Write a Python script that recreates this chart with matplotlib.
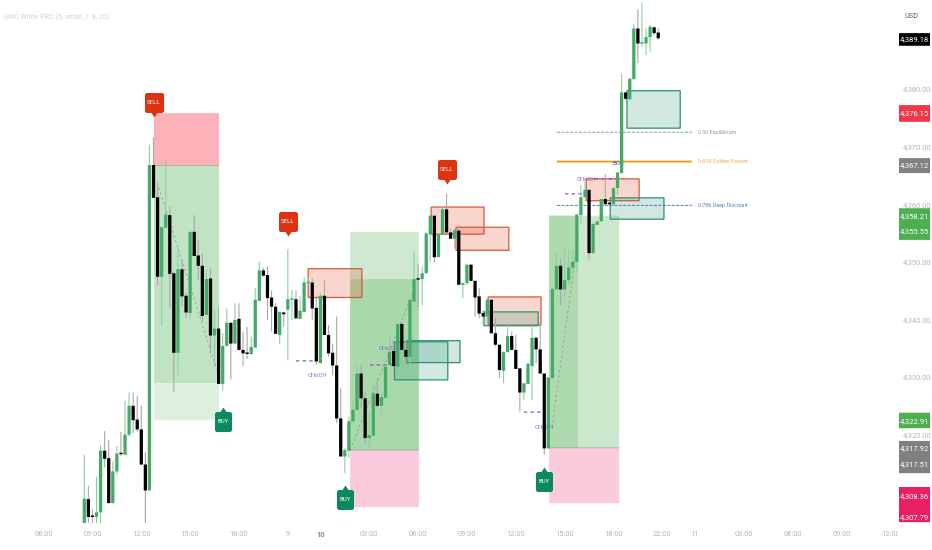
import matplotlib
matplotlib.use("Agg")
import matplotlib.pyplot as plt
from matplotlib.patches import Rectangle
from matplotlib.path import Path
from matplotlib.colors import to_rgba
from matplotlib.transforms import Bbox

plt.rcParams['font.family'] = ['Roboto', 'DejaVu Sans']
plt.rcParams['path.snap'] = False

# 15 min candles
opens = [4304.6,4308.8,4305.9,4305.7,4306.5,4317.2,4315.9,4308.1,4313.6,4316.7,
         4316.5,4320.0,4325.0,4322.6,4320.9,4314.8,4310.3,4366.8,4361.2,4347.4,
         4355.9,4358.1,4348.0,4334.2,4348.7,4344.1,4341.1,4355.2,4351.1,4349.3,
         4340.8,4347.1,4337.2,4338.4,4328.8,4335.4,4339.4,4335.8,4340.1,4334.7,
         4334.2,4334.0,4335.1,4343.2,4348.5,4347.7,4343.8,4342.2,4337.3,4341.2,
         4341.7,4343.4,4343.5,4340.1,4341.3,4346.3,4346.4,4342.0,4332.4,4344.1,
         4337.3,4334.2,4332.0,4322.8,4316.2,4317.2,4322.3,4324.3,4330.6,4326.3,
         4319.4,4319.8,4327.1,4325.0,4326.4,4332.1,4334.5,4331.8,4339.2,4334.7,
         4333.5,4343.1,4347.0,4347.0,4348.0,4354.8,4358.0,4350.8,4354.8,4359.1,
         4355.1,4354.0,4355.4,4346.0,4346.3,4349.5,4346.7,4344.0,4341.1,4340.5,
         4343.4,4337.6,4335.6,4331.1,4334.3,4337.1,4334.7,4331.5,4327.3,4328.8,
         4331.9,4336.8,4334.8,4330.6,4317.6,4329.8,4345.2,4349.3,4345.2,4346.8,
         4349.0,4350.0,4358.1,4361.2,4362.5,4351.5,4356.4,4357.0,4360.9,4360.1,
         4360.0,4362.8,4365.4,4379.4,4378.2,4381.7,4390.5,4387.9,4387.9,4389.0,
         4390.7,4389.8]
highs = [4316.5,4311.1,4307.0,4312.7,4318.2,4320.6,4319.1,4315.3,4318.0,4320.5,
         4325.9,4327.3,4327.3,4326.7,4325.1,4316.9,4370.3,4371.6,4363.3,4356.1,
         4367.7,4359.6,4348.3,4352.5,4350.4,4344.6,4355.2,4358.1,4353.8,4351.5,
         4348.6,4348.9,4341.7,4341.9,4337.6,4341.9,4339.6,4342.8,4342.8,4337.9,
         4338.7,4337.0,4345.4,4350.0,4349.0,4349.2,4345.0,4342.8,4341.3,4341.3,
         4352.2,4345.1,4345.0,4344.0,4347.4,4347.4,4347.1,4343.7,4344.5,4346.8,
         4339.0,4335.8,4340.5,4328.0,4317.6,4323.1,4325.7,4332.1,4332.1,4327.5,
         4323.7,4328.9,4329.8,4327.2,4332.1,4337.0,4335.8,4339.3,4339.3,4336.2,
         4343.7,4351.8,4349.7,4349.2,4355.2,4358.1,4358.1,4354.9,4359.6,4361.8,
         4355.8,4355.7,4356.4,4346.3,4349.5,4349.5,4346.7,4345.4,4341.6,4343.7,
         4343.5,4340.2,4335.6,4334.4,4339.0,4337.9,4337.3,4331.5,4328.9,4332.4,
         4338.7,4337.0,4339.6,4330.6,4329.9,4345.4,4351.5,4350.6,4352.1,4352.1,
         4352.1,4358.2,4363.3,4363.9,4362.5,4356.6,4357.0,4360.9,4365.2,4360.4,
         4362.9,4365.6,4382.7,4379.4,4381.8,4391.3,4393.8,4394.9,4390.5,4391.1,
         4390.9,4390.5]
lows = [4304.6,4304.6,4304.6,4304.6,4304.6,4314.3,4308.1,4308.1,4313.0,4316.3,
        4316.4,4319.6,4320.2,4320.5,4314.7,4304.6,4310.3,4361.1,4345.9,4338.9,
        4355.8,4342.1,4327.3,4330.3,4342.2,4340.2,4340.2,4351.0,4346.8,4339.6,
        4340.8,4334.1,4331.8,4328.8,4327.7,4335.3,4329.6,4335.8,4334.6,4331.9,
        4333.1,4333.8,4335.1,4343.2,4347.4,4339.9,4337.9,4337.5,4335.8,4338.8,
        4332.9,4339.9,4340.0,4340.1,4341.3,4346.2,4339.9,4332.1,4332.4,4337.3,
        4333.5,4330.3,4322.0,4316.2,4313.3,4315.9,4322.3,4324.3,4324.6,4318.5,
        4317.5,4319.8,4324.7,4322.8,4326.4,4332.1,4331.2,4331.8,4334.7,4332.1,
        4331.5,4341.6,4342.2,4342.5,4348.0,4350.0,4349.9,4350.8,4354.8,4355.1,
        4354.0,4352.4,4346.0,4343.7,4346.0,4346.7,4340.5,4340.2,4339.0,4339.0,
        4337.6,4335.3,4329.8,4328.9,4334.3,4334.7,4331.4,4324.0,4326.0,4328.8,
        4326.0,4332.4,4330.6,4316.5,4317.6,4329.8,4345.2,4342.5,4343.9,4346.0,
        4347.7,4348.4,4356.7,4361.2,4350.4,4351.5,4356.4,4357.0,4359.6,4359.8,
        4359.8,4361.6,4365.4,4378.1,4378.2,4381.7,4384.5,4387.4,4385.9,4386.5,
        4389.4,4388.5]
closes = [4308.9,4305.7,4305.7,4306.5,4317.2,4315.8,4308.1,4313.6,4316.7,4316.6,
          4320.0,4325.0,4322.5,4320.9,4314.8,4310.3,4366.8,4361.1,4347.4,4356.0,
          4358.2,4347.9,4334.2,4348.7,4344.0,4341.2,4355.2,4351.0,4349.3,4340.6,
          4347.0,4337.2,4338.4,4328.8,4335.4,4339.4,4335.8,4339.9,4334.7,4334.1,
          4334.0,4335.2,4343.4,4348.5,4347.6,4343.7,4342.2,4337.5,4341.3,4340.9,
          4343.5,4343.5,4340.2,4341.5,4346.4,4346.4,4341.9,4332.7,4344.1,4337.3,
          4334.1,4332.0,4322.8,4316.2,4317.3,4322.3,4324.3,4330.6,4326.3,4319.4,
          4319.9,4327.2,4325.0,4326.5,4331.8,4334.4,4331.9,4339.2,4334.7,4333.5,
          4343.4,4347.0,4346.9,4348.0,4354.9,4358.0,4350.8,4354.8,4359.1,4355.1,
          4354.0,4355.5,4346.0,4346.3,4349.5,4346.7,4343.8,4341.0,4340.5,4343.4,
          4337.6,4335.6,4331.2,4334.3,4337.1,4334.7,4331.4,4327.3,4328.9,4332.3,
          4336.8,4334.8,4330.6,4317.6,4329.9,4345.3,4349.3,4345.2,4346.8,4349.0,
          4350.0,4358.2,4361.2,4362.5,4351.5,4356.6,4357.0,4360.9,4360.0,4360.0,
          4362.8,4365.5,4379.4,4378.3,4381.8,4390.5,4387.9,4388.1,4389.0,4390.8,
          4389.7,4388.8]

# trade zones: left bar, right bar, low, high, colour
zone_left = [17.1, 17.1, 17.1, 65.3, 65.3, 65.3, 114.2, 114.2, 114.2]
zone_right = [33.1, 33.1, 33.1, 82.2, 82.2, 82.2, 131.4, 121.3, 131.4]
zone_low = [4366.7, 4328.9, 4322.5, 4347.0, 4317.3, 4307.4, 4317.7, 4317.7, 4308.1]
zone_high = [4375.8, 4366.7, 4328.9, 4355.2, 4347.0, 4317.3, 4358.0, 4358.0, 4317.7]
zone_color = ['#FDB2BA', '#C0E3C3', '#DDF0DE', '#CFE8D0', '#A9D8AA', '#FBCADC',
              '#CBE8CD', '#AEDAAF', '#FBCADC']

# order blocks
red_left = [55.0, 85.2, 91.3, 99.2, 123.3]
red_right = [68.2, 98.2, 104.3, 112.2, 136.3]
red_low = [4343.8, 4354.8, 4352.0, 4339.0, 4360.6]
red_high = [4348.8, 4359.5, 4356.0, 4343.9, 4364.4]
green_left = [76.2, 79.2, 98.2, 133.3, 129.2]
green_right = [89.3, 92.3, 111.5, 146.4, 142.4]
green_low = [4329.5, 4332.5, 4338.9, 4373.2, 4357.4]
green_high = [4336.1, 4336.3, 4341.3, 4379.7, 4361.1]

# fib levels
fib_level = [4372.5, 4367.4, 4359.8]
fib_text = ['0.50 Equilibrium', '0.618 Golden Pocket', '0.786 Deep Discount']
fib_color = ['#858585', '#E8A01E', '#3563B5']
fib_style = ['--', '-', '--']
fib_width = [0.6, 1.4, 0.6]

# structure marks
dash_left = [52.0, 70.2, 108.0, 118.1, 125.5]
dash_right = [57.2, 76.1, 113.2, 123.3, 131.1]
dash_level = [4332.8, 4332.1, 4323.9, 4361.8, 4364.4]
choch_x = [57.2, 74.6, 113.0, 123.3]
choch_y = [4330.3, 4334.9, 4321.3, 4364.2]
trend_x = [(17.9, 32.6), (65.3, 80.7), (114.9, 121.3)]
trend_y = [(4363.7, 4331.2), (4317.3, 4344.6), (4321.3, 4354.3)]

# signals
sell_x = [17.1, 50.0, 89.0]
sell_y = [4375.1, 4354.5, 4363.5]
buy_x = [34.0, 64.0, 113.0]
buy_y = [4324.8, 4311.2, 4314.4]

# axis
time_pos = [-10, 2, 14, 26, 38, 50, 58, 70, 82, 94, 106, 118, 130, 142, 150, 162, 174, 186, 198]
time_lab = ['06:00', '09:00', '12:00', '15:00', '18:00', '9', '10', '03:00', '06:00', '09:00',
            '12:00', '15:00', '18:00', '22:00', '11', '03:00', '06:00', '09:00', '12:00']
price_ticks = [4310, 4320, 4330, 4340, 4350, 4360, 4370, 4380]
tag_text = ['4,389.18', '4,376.15', '4,367.12', '4,358.21', '4,355.55',
            '4,322.91', '4,317.92', '4,317.51', '4,308.36', '4,307.79']
tag_level = [4388.6, 4375.8, 4366.7, 4358.0, 4355.3, 4322.4, 4317.6, 4314.9, 4309.3, 4305.6]
# tags that touch are drawn as one block
block_high = [4389.7, 4377.2, 4368.0, 4359.3, 4323.8, 4318.9, 4310.9]
block_low = [4387.5, 4374.3, 4365.4, 4353.8, 4321.1, 4313.3, 4304.8]
block_color = ['#000000', '#F23645', '#808080', '#4CAF50', '#4CAF50', '#808080', '#E91E63']

GREEN = '#43AB66'
W, H = 932, 550
PANE_W, PANE_H = 898, 523

fig = plt.figure(figsize=(W / 100, H / 100), dpi=100, facecolor='white')
ax = fig.add_axes([0, (H - PANE_H) / H, PANE_W / W, PANE_H / H])
ax.set_xlim(-20.71, 199.9)
ax.set_ylim(4304.65, 4395.45)
for s in ax.spines.values():
    s.set_visible(False)

for i in range(len(zone_left)):
    ax.add_patch(Rectangle((zone_left[i], zone_low[i]), zone_right[i] - zone_left[i],
                           zone_high[i] - zone_low[i], fc=zone_color[i], ec='none', zorder=1))
# line between stop and target
for lvl, a, b in [(4366.7, 17.1, 33.1), (4317.3, 65.3, 82.2), (4317.7, 114.2, 131.4)]:
    ax.hlines(lvl, a, b, color='#8f8f8f', lw=0.6, alpha=0.7, zorder=1.2)

for i in range(len(red_left)):
    ax.add_patch(Rectangle((red_left[i], red_low[i]), red_right[i] - red_left[i], red_high[i] - red_low[i],
                           fc=to_rgba('#E8542F', 0.24), ec='#D9583A', lw=0.9, zorder=2))
for i in range(len(green_left)):
    ax.add_patch(Rectangle((green_left[i], green_low[i]), green_right[i] - green_left[i],
                           green_high[i] - green_low[i],
                           fc=to_rgba('#2E9A7A', 0.22), ec='#2E8F70', lw=0.9, zorder=2))

for a, b in zip(trend_x, trend_y):
    ax.plot(a, b, color='#9a9a9a', lw=0.6, ls=(0, (3, 3)), zorder=2.1)

for i in range(3):
    ax.hlines(fib_level[i], 116.1, 149.3, color=fib_color[i], lw=fib_width[i],
              linestyles=fib_style[i], zorder=2.2)
    ax.text(150.8, fib_level[i], fib_text[i], color=fib_color[i], fontsize=3.9, va='center', alpha=0.85)

ax.hlines(dash_level, dash_left, dash_right, color='#7E3FC8', lw=0.8, linestyles=(0, (3, 3)), zorder=2.3)
for x, y in zip(choch_x, choch_y):
    ax.text(x, y, 'CHoCH', color='#8A4FD0', fontsize=4.2, ha='center', va='center', zorder=2.4, alpha=0.9)
ax.text(131.3, 4367.0, 'BOS', color='#3563B5', fontsize=4.4, ha='center', va='center', zorder=2.4)

# candles
for i in range(len(opens)):
    up = closes[i] >= opens[i]
    ax.vlines(i, lows[i], highs[i], color='#8CCFA4' if up else '#a8a8a8', lw=0.8, zorder=3)
    bottom = min(opens[i], closes[i])
    height = max(abs(closes[i] - opens[i]), 0.25)
    ax.bar(i, height, 0.8, bottom=bottom, color=GREEN if up else '#000000', lw=0, zorder=3.1)

# signal tags, path in pixels with the tip at the origin
sell_path = Path([(0, 0), (-3, 4.5), (-8, 4.5), (-9.5, 6), (-9.5, 23), (-8, 24.5), (8, 24.5),
                  (9.5, 23), (9.5, 6), (8, 4.5), (3, 4.5), (0, 0)], closed=True)
buy_path = Path([(0, 0), (-3, -4.5), (-7, -4.5), (-8.5, -6), (-8.5, -23), (-7, -24.5), (7, -24.5),
                 (8.5, -23), (8.5, -6), (7, -4.5), (3, -4.5), (0, 0)], closed=True)
ax.plot(sell_x, sell_y, ls='none', marker=sell_path, ms=2 * 24.5 * 0.72, mfc='#DD3311', mew=0, zorder=4)
ax.plot(buy_x, buy_y, ls='none', marker=buy_path, ms=2 * 24.5 * 0.72, mfc='#0B8A5F', mew=0, zorder=4)
for x, y in zip(sell_x, sell_y):
    ax.annotate('SELL', (x, y), xytext=(0, 10.5), textcoords='offset points', color='white',
                fontsize=4.4, ha='center', va='center', zorder=5)
for x, y in zip(buy_x, buy_y):
    ax.annotate('BUY', (x, y), xytext=(0, -10.5), textcoords='offset points', color='white',
                fontsize=4.4, ha='center', va='center', zorder=5)

# axes
ax.set_xticks(time_pos)
ax.set_xticklabels(time_lab)
ax.set_yticks(price_ticks)
ax.set_yticklabels([f'{p:,.2f}' for p in price_ticks])
ax.yaxis.tick_right()
ax.tick_params(axis='y', length=0, pad=3.6, labelsize=5.4, labelcolor='#b5b5b5')
ax.tick_params(axis='x', length=0, pad=6, labelsize=5.4, labelcolor='#b5b5b5')
clip = Bbox([[0, 0], [PANE_W, H]])
for lab in ax.get_xticklabels():
    lab.set_clip_box(clip)
    lab.set_clip_on(True)
    if lab.get_text() == '10':
        lab.set_fontweight('bold')
        lab.set_color('#8a8a8a')

# price tags
trans = ax.get_yaxis_transform()
for hi, lo, c in zip(block_high, block_low, block_color):
    ax.add_patch(Rectangle((899 / PANE_W, lo), 31 / PANE_W, hi - lo, transform=trans,
                           fc=c, ec='none', clip_on=False, zorder=6))
for t, lvl in zip(tag_text, tag_level):
    ax.text(914.5 / PANE_W, lvl, t, transform=trans, color='white', fontsize=5.5,
            ha='center', va='center', clip_on=False, zorder=7)

fig.text(4 / W, 1 - 17 / H, 'SMC White PRO (5, small, 7, 8, 20)', color='#d2d2d2', fontsize=5, va='center')
fig.text(911 / W, 1 - 16 / H, 'USD', color='#555555', fontsize=5.2, ha='center', va='center')

fig.savefig('out.png', dpi=100)
